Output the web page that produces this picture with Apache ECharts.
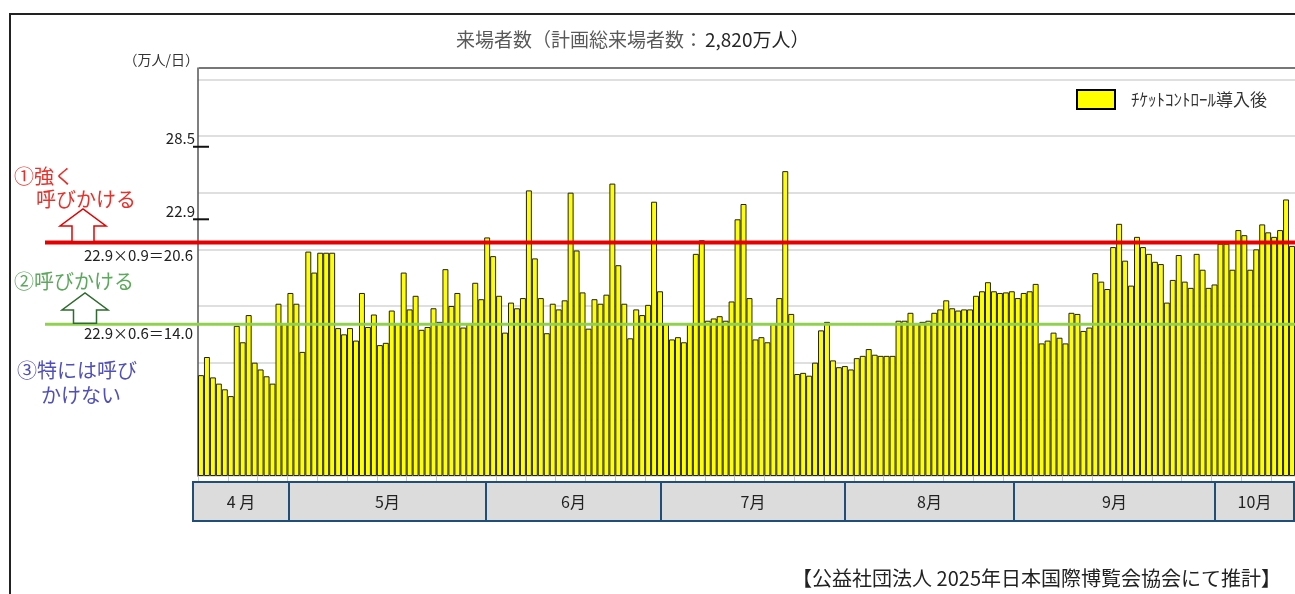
<!DOCTYPE html>
<html>
<head>
<meta charset="utf-8">
<script src="https://cdn.jsdelivr.net/npm/echarts@6/dist/echarts.min.js"></script>
<style>
  html, body { margin: 0; padding: 0; background: #fff; }
  #chart { width: 1295px; height: 594px; }
</style>
</head>
<body>
<div id="chart"></div>
<script>
// 日別来場者数（万人/日） 4/13 〜 10/13
var apr = [8.9, 10.5, 8.7, 8.15, 7.65, 7.05, 13.25, 11.8, 14.2, 10.0, 9.4, 8.8, 8.15, 15.2, 13.4, 16.15, 15.2, 10.95];
var may = [19.8, 17.95, 19.7, 19.7, 19.7, 13.05, 12.5, 13.05, 11.95, 16.15, 13.15, 14.25, 11.55, 11.75, 14.6, 13.4,
  17.95, 14.7, 15.9, 12.9, 13.15, 14.8, 13.6, 18.25, 15.0, 16.15, 13.1, 13.4, 17.05, 15.6, 21.05];
var jun = [19.4, 15.9, 12.65, 15.3, 14.8, 15.7, 25.2, 19.2, 15.7, 12.6, 15.2, 14.7, 15.5, 25.0, 19.9, 16.2, 13.0,
  15.6, 15.2, 16.0, 25.8, 18.6, 15.2, 12.15, 14.7, 14.2, 15.1, 24.2, 16.3, 13.4];
var jul = [12.05, 12.25, 11.8, 13.4, 19.6, 20.8, 13.7, 13.9, 14.1, 13.7, 15.4, 22.65, 24.0, 15.7, 12.05, 12.25,
  11.8, 13.4, 15.7, 26.9, 14.3, 9.0, 9.1, 8.85, 10.0, 12.85, 13.6, 10.2, 9.6, 9.7, 9.4];
var aug = [10.4, 10.6, 11.2, 10.7, 10.6, 10.6, 10.6, 13.7, 13.7, 14.4, 13.4, 13.6, 13.7, 14.4, 14.7, 15.5, 14.8,
  14.6, 14.7, 14.7, 15.9, 16.3, 17.1, 16.3, 16.15, 16.2, 16.3, 15.7, 16.15, 16.3, 16.95];
var sep = [11.7, 11.95, 12.65, 12.2, 11.7, 14.4, 14.3, 12.8, 13.1, 17.9, 17.15, 16.5, 20.2, 22.25, 19.0, 16.8,
  21.1, 20.2, 19.6, 18.9, 18.7, 15.3, 17.3, 19.5, 17.15, 16.6, 19.6, 18.2, 16.6, 16.9];
var oct = [20.5, 20.5, 18.2, 21.7, 21.25, 18.2, 20.0, 22.2, 21.5, 21.1, 21.7, 24.4, 20.3];

var monthNames = ['4 月', '5月', '6月', '7月', '8月', '9月', '10月'];
var firstDay = [13, 1, 1, 1, 1, 1, 1];
var markLabels = ['28.5', '22.9'];   // 手書きの目盛り
var markAt = [29.05, 22.65];         // 絵の上での位置
var redLevel = 20.6;                 // 22.9×0.9
var greenLevel = 13.4;               // 22.9×0.6 の線（絵の位置）
var seriesName = 'ﾁｹｯﾄｺﾝﾄﾛｰﾙ導入後';

// 月ごとの枠（下の表）
var monthBoxX = [193, 289, 486, 661, 845, 1014, 1215, 1294];

var days = [];
var visitors = [];
[apr, may, jun, jul, aug, sep, oct].forEach(function (arr, i) {
  arr.forEach(function (v, j) {
    days.push((i + 4) + '/' + (firstDay[i] + j));
    visitors.push(v);
  });
});

var FONT = '"Noto Sans CJK JP"';
var chart = echarts.init(document.getElementById('chart'));
chart.setOption({
  backgroundColor: '#ffffff',
  animation: false,
  textStyle: { fontFamily: 'Noto Sans CJK JP' },
  grid: { left: 198, top: 68, width: 1102, height: 408 },
  legend: {
    left: 1076, top: 89, padding: 0,
    itemWidth: 38, itemHeight: 19,
    icon: 'rect',
    itemStyle: { borderColor: '#000', borderWidth: 2 },
    textStyle: { fontSize: 17, color: '#333', padding: [0, 0, 0, 11] },
    data: [seriesName]
  },
  xAxis: {
    type: 'category',
    data: days,
    axisLine: { show: false },
    axisTick: { show: true, interval: 4, length: 5, lineStyle: { color: '#c8c8c8' } },
    axisLabel: { show: false }
  },
  yAxis: {
    type: 'value', min: 0, max: 36, interval: 5,
    axisLine: { show: true, lineStyle: { color: '#555', width: 1.5 } },
    axisTick: { show: false },
    axisLabel: { show: false },
    splitLine: { lineStyle: { color: '#d4d4d4', width: 1.5 } }
  },
  series: [{
    name: seriesName,
    type: 'bar',
    data: visitors,
    barWidth: '100%',
    barGap: '0%',
    itemStyle: { color: '#ffff00', borderColor: '#222', borderWidth: 1 }
  }]
});

// 注記は軸のスケールから位置を取る
function yPx(v) { return chart.convertToPixel({ yAxisIndex: 0 }, v); }
function txt(text, x, y, size, color, align) {
  return {
    type: 'text', z: 10,
    style: {
      text: text, x: x, y: y, fill: color,
      font: size + 'px ' + FONT,
      textAlign: align || 'left', textVerticalAlign: 'middle'
    }
  };
}
function arrow(cx, tipY, baseY, lineY, halfHead, halfStem, color) {
  return {
    type: 'polygon', z: 12,
    shape: { points: [[cx - halfStem, lineY], [cx - halfStem, baseY], [cx - halfHead, baseY], [cx, tipY],
      [cx + halfHead, baseY], [cx + halfStem, baseY], [cx + halfStem, lineY]] },
    style: { fill: '#fff', stroke: color, lineWidth: 1.5 }
  };
}

var topY = yPx(36);
var redY = yPx(redLevel);
var greenY = yPx(greenLevel);
var els = [];

// 外枠
els.push({ type: 'polyline', z: 5, shape: { points: [[10, 594], [10, 14], [1295, 14]] },
  style: { stroke: '#222', lineWidth: 2, fill: null } });
// プロットの上辺
els.push({ type: 'line', z: 5, shape: { x1: 199, y1: topY, x2: 1295, y2: topY },
  style: { stroke: '#555', lineWidth: 1.5 } });

// タイトル
els.push(txt('来場者数（計画総来場者数：', 703, 40, 19, '#595959', 'right'));
els.push(txt('2,820万人）', 705, 40, 19, '#262626', 'left'));
els.push(txt('（万人/日）', 199, 60, 14, '#333', 'right'));

// 手書き目盛り
markLabels.forEach(function (lab, i) {
  var y = yPx(markAt[i]);
  els.push(txt(lab, 195, y - 8, 15, '#222', 'right'));
  els.push({ type: 'line', z: 11, shape: { x1: 193, y1: y, x2: 209, y2: y }, style: { stroke: '#111', lineWidth: 2 } });
});

// 基準線
els.push({ type: 'line', z: 9, shape: { x1: 45, y1: redY, x2: 1295, y2: redY }, style: { stroke: '#e60000', lineWidth: 4 } });
els.push({ type: 'line', z: 9, shape: { x1: 45, y1: greenY, x2: 1295, y2: greenY }, style: { stroke: '#92d050', lineWidth: 3 } });
els.push(arrow(83, 209, 226, redY - 1, 23, 11, '#e60000'));
els.push(arrow(85, 293, 310, greenY - 1, 23, 11.5, '#2e6b2e'));

els.push(txt('①強く', 14, 176, 20, '#e8302a'));
els.push(txt('呼びかける', 36, 199, 20, '#e8302a'));
els.push(txt('22.9×0.9＝20.6', 193, redY + 13, 15, '#222', 'right'));
els.push(txt('②呼びかける', 14, 281, 20, '#5ca85c'));
els.push(txt('22.9×0.6＝14.0', 193, greenY + 9, 15, '#222', 'right'));
els.push(txt('③特には呼び', 17, 370, 20, '#5050b8'));
els.push(txt('かけない', 41, 395, 20, '#5050b8'));

// 月の表
monthNames.forEach(function (m, i) {
  var x0 = monthBoxX[i], x1 = monthBoxX[i + 1];
  els.push({ type: 'rect', z: 6, shape: { x: x0, y: 482, width: x1 - x0, height: 39 },
    style: { fill: '#dcdcdc', stroke: '#1f4e79', lineWidth: 2 } });
  els.push(txt(m, (x0 + x1) / 2, 502, 16, '#222', 'center'));
});

els.push(txt('【公益社団法人 2025年日本国際博覧会協会にて推計】', 1281, 578, 20, '#222', 'right'));

chart.setOption({ graphic: { elements: els } });
</script>
</body>
</html>
